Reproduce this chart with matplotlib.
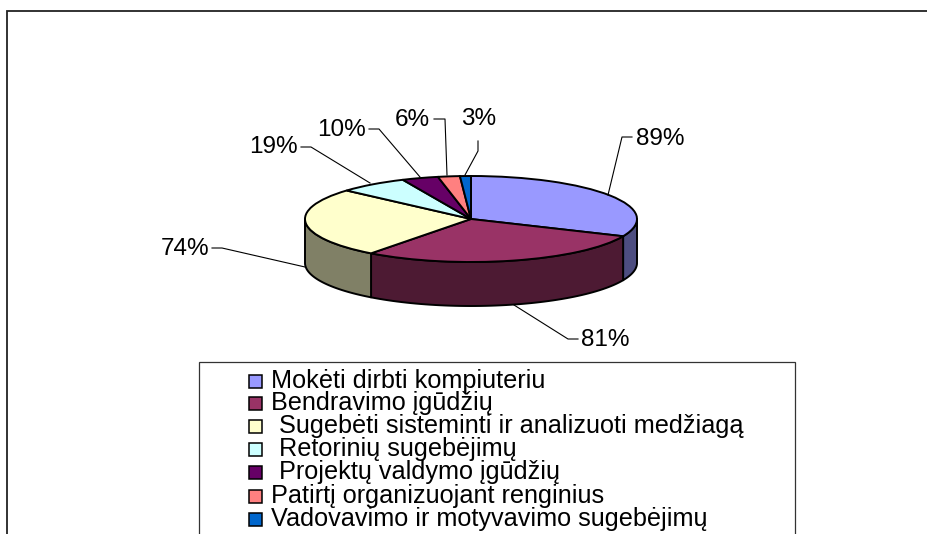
import numpy as np
import matplotlib
matplotlib.use('Agg')
import matplotlib.pyplot as plt
from matplotlib.patches import Rectangle

plt.rcParams['font.family'] = ['Liberation Sans', 'DejaVu Sans']

values  = [89, 81, 74, 19, 10, 6, 3]
pct     = ['89%', '81%', '74%', '19%', '10%', '6%', '3%']
names   = ['Mokėti dirbti kompiuteriu', 'Bendravimo įgūdžių',
           'Sugebėti sisteminti ir analizuoti medžiagą', 'Retorinių sugebėjimų',
           'Projektų valdymo įgūdžių', 'Patirtį organizuojant renginius',
           'Vadovavimo ir motyvavimo sugebėjimų']
colors  = ['#9999ff', '#993366', '#ffffcc', '#ccffff', '#660066', '#ff8080', '#0066cc']
sides   = ['#4d4d80', '#4d1a33', '#808066', '#668080', '#330033', '#804040', '#003366']

W, H = 928, 534
cx, cy = 471, 219       # centre of the top face, px
rx, ry = 166, 43        # ellipse radii, px
depth  = 44
edge   = 1.4

fig = plt.figure(figsize=(W/100, H/100), dpi=100)

# page axes in pixel coords, for frame and side wall
page = fig.add_axes([0, 0, 1, 1], zorder=1)
page.set_xlim(0, W)
page.set_ylim(H, 0)
page.axis('off')

# frame: only left and top, cut by the picture edges
page.plot([7, 7, W], [H, 11, 11], color='#222222', lw=1.3, solid_joinstyle='miter')

# side wall, front half of the rim only (90 to 270 deg clockwise from top)
ends = np.cumsum(values) / np.sum(values) * 360
starts = np.r_[0, ends[:-1]]
for a0, a1, c in zip(starts, ends, sides):
    lo, hi = max(a0, 90), min(a1, 270)
    if lo >= hi:
        continue
    t = np.radians(np.linspace(lo, hi, 60))
    x = cx + rx * np.sin(t)
    y = cy - ry * np.cos(t)
    page.fill(np.r_[x, x[::-1]], np.r_[y, y[::-1] + depth], facecolor=c, edgecolor='black',
              lw=edge, joinstyle='round')

# pie, axes stretched so the circle turns into the ellipse
pie_ax = fig.add_axes([(cx-rx)/W, 1-(cy+ry)/H, 2*rx/W, 2*ry/H], zorder=2)
pie_ax.pie(values, colors=colors, startangle=90, counterclock=False, radius=1,
           wedgeprops={'edgecolor': 'black', 'linewidth': edge})
pie_ax.set_aspect('auto')
pie_ax.set_xlim(-1, 1)
pie_ax.set_ylim(-1, 1)
for p in pie_ax.patches:
    p.set_clip_on(False)

# leaders, labels and legend on their own axes over the pie
over = fig.add_axes([0, 0, 1, 1], zorder=4)
over.set_xlim(0, W)
over.set_ylim(H, 0)
over.axis('off')
over.patch.set_alpha(0)

leaders = [[(608, 195), (622, 137), (632, 137)],
           [(514, 305), (568, 339), (578, 339)],
           [(305, 267), (222, 248), (212, 248)],
           [(370, 183), (311, 147), (301, 147)],
           [(420, 177), (379, 129), (369, 129)],
           [(447, 175), (445, 119), (434, 119)],
           [(465, 175), (478, 151), (478, 141)]]
label_pos = [(636, 139, 'left'), (581, 340, 'left'), (209, 249, 'right'), (298, 147, 'right'),
             (366, 130, 'right'), (430, 120, 'right'), (479, 119, 'center')]
for lab, line, (lx, ly, ha) in zip(pct, leaders, label_pos):
    over.plot(*zip(*line), color='black', lw=0.8)
    over.text(lx, ly, lab, fontsize=17.5, ha=ha, va='center', color='black')

# legend box, also cut at the bottom
over.plot([199, 199, 795, 795], [H, 362, 362, H], color='#333333', lw=0.9, solid_joinstyle='miter')
leg_y = [381, 403, 426, 449, 472, 496, 519]
leg_x = [271, 271, 279, 279, 279, 271, 271]
for name, c, y, x in zip(names, colors, leg_y, leg_x):
    over.add_patch(Rectangle((249, y-6), 13, 13, facecolor=c, edgecolor='black', lw=1.1))
    over.text(x, y, name, fontsize=18.2, va='center', ha='left', color='black')

fig.savefig('out.png', dpi=100)
